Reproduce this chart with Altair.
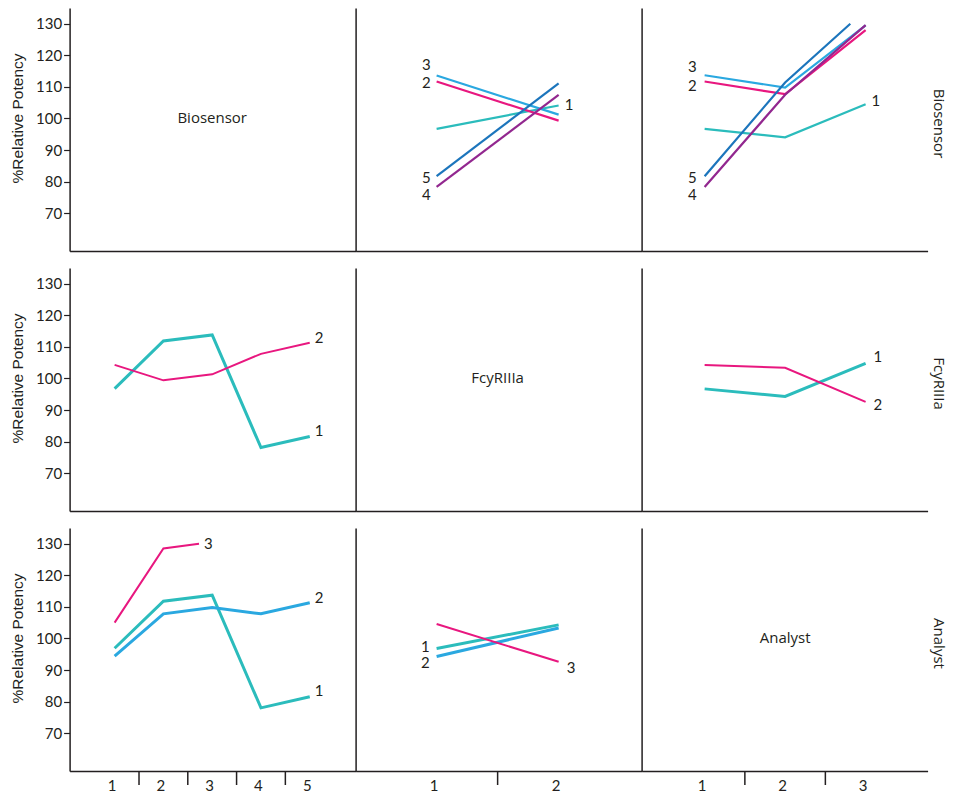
import altair as alt
import pandas as pd

# ---------------- data ----------------
FACTORS = ["Biosensor", "FcyRIIIa", "Analyst"]
BIO_LEVELS = [1, 2, 3, 4, 5]
FCY_LEVELS = [1, 2]
ANALYST_LEVELS = [1, 2, 3]
Y_TICKS = [70, 80, 90, 100, 110, 120, 130]

# row Biosensor / column FcyRIIIa : one line per Biosensor level, x = FcyRIIIa level
bio_by_fcy = {
    "1": [96.7, 104.1],
    "2": [111.7, 99.3],
    "3": [113.6, 101.2],
    "4": [78.3, 107.5],
    "5": [81.7, 111.1],
}
# row Biosensor / column Analyst : one line per Biosensor level, x = Analyst level
bio_by_analyst = {
    "1": [96.7, 94.0, 104.5],
    "2": [111.7, 107.7, 128.0],
    "3": [113.7, 109.8, 129.5],
    "4": [78.3, 107.5, 129.6],
    "5": [81.7, 111.4, 130.0],
}
bio_by_analyst_x = {"5": [1, 2, 2.81]}  # this line is cut at 130 in the reference

# row FcyRIIIa / column Biosensor
fcy_by_bio = {
    "1": [96.8, 111.9, 113.8, 78.1, 81.6],
    "2": [104.3, 99.4, 101.3, 107.8, 111.3],
}
# row FcyRIIIa / column Analyst
fcy_by_analyst = {
    "1": [96.7, 94.3, 104.8],
    "2": [104.3, 103.4, 92.6],
}
# row Analyst / column Biosensor
analyst_by_bio = {
    "1": [96.9, 111.8, 113.7, 78.0, 81.5],
    "2": [94.4, 107.8, 109.8, 107.8, 111.3],
    "3": [105.0, 128.5, 130.0],
}
analyst_by_bio_x = {"3": [1, 2, 2.73]}  # this line is cut at 130 in the reference
# row Analyst / column FcyRIIIa
analyst_by_fcy = {
    "1": [96.8, 104.3],
    "2": [94.3, 103.3],
    "3": [104.6, 92.6],
}

# ---------------- styling ----------------
TEAL = "#2bbcbc"
PINK = "#e8177f"
LBLUE = "#2aa8e0"
DBLUE = "#1c75bc"
PURPLE = "#92278f"
INK = "#231f20"

SERIES_STYLE = {
    "Biosensor": {"1": (TEAL, 2.2), "2": (PINK, 2.2), "3": (LBLUE, 2.2), "4": (PURPLE, 2.2), "5": (DBLUE, 2.2)},
    "FcyRIIIa": {"1": (TEAL, 3), "2": (PINK, 2)},
    "Analyst": {"1": (TEAL, 3), "2": (LBLUE, 3), "3": (PINK, 2)},
}

LEVELS = {"Biosensor": BIO_LEVELS, "FcyRIIIa": FCY_LEVELS, "Analyst": ANALYST_LEVELS}
X_DOMAINS = {"Biosensor": [0.077, 5.94], "FcyRIIIa": [0.336, 2.68], "Analyst": [0.217, 3.77]}
Y_DOMAIN = [58, 135]
W, H = 286, 243

PANELS = {
    ("Biosensor", "FcyRIIIa"): (bio_by_fcy, {}),
    ("Biosensor", "Analyst"): (bio_by_analyst, bio_by_analyst_x),
    ("FcyRIIIa", "Biosensor"): (fcy_by_bio, {}),
    ("FcyRIIIa", "Analyst"): (fcy_by_analyst, {}),
    ("Analyst", "Biosensor"): (analyst_by_bio, analyst_by_bio_x),
    ("Analyst", "FcyRIIIa"): (analyst_by_fcy, {}),
}

# label placement: (series, side, dx, dy)
LABELS = {
    ("Biosensor", "FcyRIIIa"): [("3", "start", -6, -11), ("2", "start", -6, 1), ("5", "start", -6, 2),
                                ("4", "start", -6, 8), ("1", "end", 6, -1)],
    ("Biosensor", "Analyst"): [("3", "start", -8, -8), ("2", "start", -8, 4), ("5", "start", -8, 2),
                               ("4", "start", -8, 8), ("1", "end", 6, -3)],
    ("FcyRIIIa", "Biosensor"): [("2", "end", 5, -5), ("1", "end", 5, -6)],
    ("FcyRIIIa", "Analyst"): [("1", "end", 8, -6), ("2", "end", 8, 3)],
    ("Analyst", "Biosensor"): [("3", "end", 5, 0), ("2", "end", 5, -5), ("1", "end", 5, -6)],
    ("Analyst", "FcyRIIIa"): [("1", "start", -7, -2), ("2", "start", -7, 7), ("3", "end", 8, 6)],
}

LABEL_FONT = "Lato"


def axes(ri, ci):
    cf = FACTORS[ci]
    if ci == 0:
        yax = alt.Axis(values=Y_TICKS, title="%Relative Potency", grid=False, tickSize=6,
                       tickColor=INK, tickWidth=1.2, domainColor=INK, domainWidth=1.5,
                       labelFont=LABEL_FONT, labelFontSize=15, labelColor=INK, labelPadding=2,
                       titleFont="Liberation Sans", titleFontSize=15.5, titleFontWeight="normal",
                       titleColor=INK, titlePadding=10, titleY=110)
    else:
        yax = alt.Axis(ticks=False, labels=False, title=None, grid=False,
                       domainColor=INK, domainWidth=1.5)
    if ri == 2:
        xax = alt.Axis(values=LEVELS[cf], ticks=False, title=None, grid=False, labelPadding=8,
                       labelOffset=-3, labelFont=LABEL_FONT, labelFontSize=15, labelColor=INK,
                       domainColor=INK, domainWidth=1.5, labelFlush=False)
    else:
        xax = alt.Axis(ticks=False, labels=False, title=None, grid=False,
                       domainColor=INK, domainWidth=1.5)
    return xax, yax


def make_panel(ri, ci):
    rf, cf = FACTORS[ri], FACTORS[ci]
    xax, yax = axes(ri, ci)
    xs = alt.Scale(domain=X_DOMAINS[cf], nice=False, zero=False)
    ys = alt.Scale(domain=Y_DOMAIN, nice=False, zero=False)
    X = lambda: alt.X("x:Q", scale=xs, axis=xax)
    Y = lambda: alt.Y("y:Q", scale=ys, axis=yax)
    layers = []
    if ri == ci:
        lv = LEVELS[cf]
        df = pd.DataFrame({"x": [(lv[0] + lv[-1]) / 2], "y": [100], "t": [rf]})
        layers.append(alt.Chart(df).mark_text(font="Open Sans", fontSize=15, color=INK)
                      .encode(x=X(), y=Y(), text="t:N"))
    else:
        series, xover = PANELS[(rf, cf)]
        for key, vals in series.items():
            xsv = xover.get(key, LEVELS[cf][:len(vals)])
            color, width = SERIES_STYLE[rf][key]
            df = pd.DataFrame({"x": xsv, "y": vals})
            layers.append(alt.Chart(df).mark_line(color=color, strokeWidth=width)
                          .encode(x=X(), y=Y()))
        for key, side, dx, dy in LABELS[(rf, cf)]:
            vals = series[key]
            xsv = xover.get(key, LEVELS[cf][:len(vals)])
            i = 0 if side == "start" else -1
            df = pd.DataFrame({"x": [xsv[i]], "y": [vals[i]], "t": [key]})
            layers.append(alt.Chart(df).mark_text(font=LABEL_FONT, fontSize=15, color=INK,
                                                  align="right" if side == "start" else "left",
                                                  baseline="middle", dx=dx, dy=dy)
                          .encode(x=X(), y=Y(), text="t:N"))
    if ri == 2:
        lv = LEVELS[cf]
        bounds = [v + 0.5 for v in lv[:-1]]
        df = pd.DataFrame({"x": bounds})
        layers.append(alt.Chart(df).mark_rule(color=INK, strokeWidth=1.5)
                      .encode(x=X(), y=alt.value(H), y2=alt.value(H + 14)))
    if ci == 2:
        df = pd.DataFrame({"t": [rf]})
        layers.append(alt.Chart(df).mark_text(font="Open Sans", fontSize=15, color=INK, angle=90,
                                              align="center", baseline="alphabetic")
                      .encode(x=alt.value(W + 6), y=alt.value(H / 2 - 6), text="t:N"))
    return alt.layer(*layers).properties(width=W, height=H)


rows = [alt.hconcat(*[make_panel(r, c) for c in range(3)], spacing=0) for r in range(3)]
chart = (alt.vconcat(*rows, spacing=17)
         .properties(padding={"left": 1.6, "top": 0, "right": 2, "bottom": 0})
         .configure_view(stroke=None))

chart.save("out.html", embed_options={"renderer": "svg", "actions": False})
